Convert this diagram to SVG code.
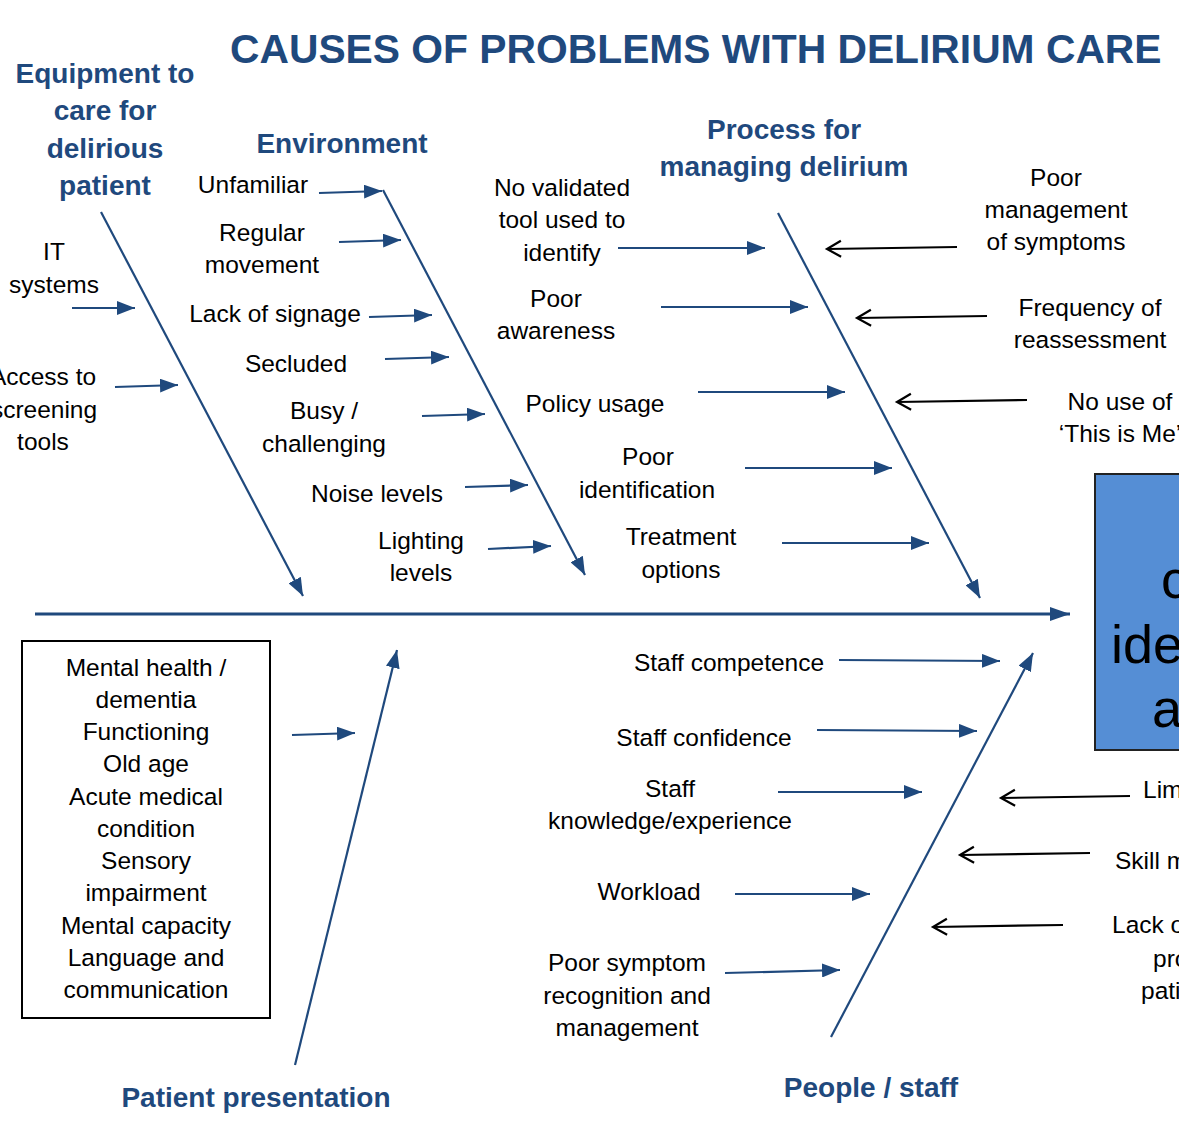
<svg xmlns="http://www.w3.org/2000/svg" width="1179" height="1124" viewBox="0 0 1179 1124">
  <style>
    .t { font-family: "Liberation Sans", Arial, sans-serif; font-size: 24.5px; fill: #000; text-anchor: middle; }
    .ts { font-family: "Liberation Sans", Arial, sans-serif; font-size: 24.5px; fill: #000; text-anchor: start; }
    .h { font-family: "Liberation Sans", Arial, sans-serif; font-size: 28px; font-weight: bold; fill: #1f497d; text-anchor: middle; }
    .title { font-family: "Liberation Sans", Arial, sans-serif; font-size: 40.8px; font-weight: bold; fill: #1f497d; }
    .bone { stroke: #1f497d; stroke-width: 2.2; fill: none; marker-end: url(#ah); }
    .spine { stroke: #1f497d; stroke-width: 3.2; fill: none; marker-end: url(#ahBig); }
    .k { stroke: #000; stroke-width: 2.2; fill: none; marker-end: url(#vh); }
    .big { font-family: "Liberation Sans", Arial, sans-serif; font-size: 54px; fill: #000; }
  </style>
  <defs>
    <marker id="ah" markerUnits="userSpaceOnUse" markerWidth="20" markerHeight="14" refX="18" refY="7" orient="auto">
      <path d="M0,0 L18,7 L0,14 z" fill="#1f497d"/>
    </marker>
    <marker id="ahBig" markerUnits="userSpaceOnUse" markerWidth="22" markerHeight="14" refX="20" refY="7" orient="auto">
      <path d="M0,0 L20,7 L0,14 z" fill="#1f497d"/>
    </marker>
    <marker id="vh" markerUnits="userSpaceOnUse" markerWidth="18" markerHeight="20" refX="15" refY="10" orient="auto">
      <path d="M1,2 L15,10 L1,18" fill="none" stroke="#000" stroke-width="2.2"/>
    </marker>
  </defs>

  <rect width="1179" height="1124" fill="#fff"/>

  <text class="title" x="230" y="63">CAUSES OF PROBLEMS WITH DELIRIUM CARE</text>

  <!-- Outcome box on the right (runs past the right edge) -->
  <g id="outcome">
    <rect x="1095" y="474" width="120" height="276" fill="#558ed5" stroke="#222" stroke-width="2"/>
    <text class="big" x="1161" y="598">c</text>
    <text class="big" x="1111" y="663">iden</text>
    <text class="big" x="1152" y="727">a</text>
  </g>

  <!-- Category headings -->
  <g id="cat-equipment">
    <text class="h" x="105" y="83">Equipment to</text>
    <text class="h" x="105" y="120">care for</text>
    <text class="h" x="105" y="158">delirious</text>
    <text class="h" x="105" y="195">patient</text>
  </g>
  <g id="cat-environment">
    <text class="h" x="342" y="153">Environment</text>
  </g>
  <g id="cat-process">
    <text class="h" x="784" y="139">Process for</text>
    <text class="h" x="784" y="176">managing delirium</text>
  </g>
  <g id="cat-patient">
    <text class="h" x="256" y="1107">Patient presentation</text>
  </g>
  <g id="cat-people">
    <text class="h" x="871" y="1097">People / staff</text>
  </g>

  <!-- Equipment causes -->
  <g id="c-it">
    <text class="t" x="54" y="260">IT</text>
    <text class="t" x="54" y="293">systems</text>
  </g>
  <g id="c-access">
    <text class="t" x="43" y="385">Access to</text>
    <text class="t" x="44" y="418">screening</text>
    <text class="t" x="43" y="450">tools</text>
  </g>

  <!-- Environment causes -->
  <g id="c-unfamiliar"><text class="t" x="253" y="193">Unfamiliar</text></g>
  <g id="c-regular">
    <text class="t" x="262" y="241">Regular</text>
    <text class="t" x="262" y="273">movement</text>
  </g>
  <g id="c-signage"><text class="t" x="275" y="322">Lack of signage</text></g>
  <g id="c-secluded"><text class="t" x="296" y="372">Secluded</text></g>
  <g id="c-busy">
    <text class="t" x="324" y="419">Busy /</text>
    <text class="t" x="324" y="452">challenging</text>
  </g>
  <g id="c-noise"><text class="t" x="377" y="502">Noise levels</text></g>
  <g id="c-lighting">
    <text class="t" x="421" y="549">Lighting</text>
    <text class="t" x="421" y="581">levels</text>
  </g>

  <!-- Process causes -->
  <g id="c-validated">
    <text class="t" x="562" y="196">No validated</text>
    <text class="t" x="562" y="228">tool used to</text>
    <text class="t" x="562" y="261">identify</text>
  </g>
  <g id="c-awareness">
    <text class="t" x="556" y="307">Poor</text>
    <text class="t" x="556" y="339">awareness</text>
  </g>
  <g id="c-policy"><text class="t" x="595" y="412">Policy usage</text></g>
  <g id="c-identification">
    <text class="t" x="648" y="465">Poor</text>
    <text class="t" x="647" y="498">identification</text>
  </g>
  <g id="c-treatment">
    <text class="t" x="681" y="545">Treatment</text>
    <text class="t" x="681" y="578">options</text>
  </g>
  <g id="c-symptoms">
    <text class="t" x="1056" y="186">Poor</text>
    <text class="t" x="1056" y="218">management</text>
    <text class="t" x="1056" y="250">of symptoms</text>
  </g>
  <g id="c-frequency">
    <text class="t" x="1090" y="316">Frequency of</text>
    <text class="t" x="1090" y="348">reassessment</text>
  </g>
  <g id="c-thisisme">
    <text class="t" x="1120" y="410">No use of</text>
    <text class="t" x="1120" y="442">‘This is Me’</text>
  </g>

  <!-- Patient presentation factors -->
  <g id="c-patient">
    <rect x="22" y="641" width="248" height="377" fill="#fff" stroke="#000" stroke-width="2"/>
    <text class="t" x="146" y="676">Mental health /</text>
    <text class="t" x="146" y="708">dementia</text>
    <text class="t" x="146" y="740">Functioning</text>
    <text class="t" x="146" y="772">Old age</text>
    <text class="t" x="146" y="805">Acute medical</text>
    <text class="t" x="146" y="837">condition</text>
    <text class="t" x="146" y="869">Sensory</text>
    <text class="t" x="146" y="901">impairment</text>
    <text class="t" x="146" y="934">Mental capacity</text>
    <text class="t" x="146" y="966">Language and</text>
    <text class="t" x="146" y="998">communication</text>
  </g>

  <!-- People / staff causes -->
  <g id="c-competence"><text class="t" x="729" y="671">Staff competence</text></g>
  <g id="c-confidence"><text class="t" x="704" y="746">Staff confidence</text></g>
  <g id="c-knowledge">
    <text class="t" x="670" y="797">Staff</text>
    <text class="t" x="670" y="829">knowledge/experience</text>
  </g>
  <g id="c-workload"><text class="t" x="649" y="900">Workload</text></g>
  <g id="c-recognition">
    <text class="t" x="627" y="971">Poor symptom</text>
    <text class="t" x="627" y="1004">recognition and</text>
    <text class="t" x="627" y="1036">management</text>
  </g>
  <g id="c-lim"><text class="ts" x="1143" y="798">Lim</text></g>
  <g id="c-skill"><text class="ts" x="1115" y="869">Skill m</text></g>
  <g id="c-lack">
    <text class="ts" x="1112" y="933">Lack o</text>
    <text class="ts" x="1153" y="967">pro</text>
    <text class="ts" x="1141" y="999">pati</text>
  </g>

  <!-- Connectors -->
  <g id="connectors">
    <!-- spine -->
    <line class="spine" x1="35" y1="614" x2="1070" y2="614"/>

    <!-- category bones -->
    <line class="bone" x1="101" y1="212" x2="303" y2="596"/>
    <line class="bone" x1="383" y1="190" x2="585" y2="575"/>
    <line class="bone" x1="778" y1="213" x2="980" y2="598"/>
    <line class="bone" x1="295" y1="1065" x2="397" y2="650"/>
    <line class="bone" x1="831" y1="1037" x2="1033" y2="653"/>

    <!-- equipment -->
    <line class="bone" x1="72" y1="308" x2="135" y2="308"/>
    <line class="bone" x1="115" y1="387" x2="178" y2="385"/>

    <!-- environment -->
    <line class="bone" x1="319" y1="193" x2="382" y2="191"/>
    <line class="bone" x1="339" y1="242" x2="401" y2="240"/>
    <line class="bone" x1="369" y1="317" x2="432" y2="315"/>
    <line class="bone" x1="385" y1="359" x2="449" y2="357"/>
    <line class="bone" x1="422" y1="416" x2="485" y2="414"/>
    <line class="bone" x1="465" y1="487" x2="528" y2="485"/>
    <line class="bone" x1="488" y1="549" x2="551" y2="546"/>

    <!-- process -->
    <line class="bone" x1="618" y1="248" x2="765" y2="248"/>
    <line class="bone" x1="661" y1="307" x2="808" y2="307"/>
    <line class="bone" x1="698" y1="392" x2="845" y2="392"/>
    <line class="bone" x1="745" y1="468" x2="892" y2="468"/>
    <line class="bone" x1="782" y1="543" x2="929" y2="543"/>
    <line class="k" x1="957" y1="247" x2="827" y2="249"/>
    <line class="k" x1="987" y1="316" x2="857" y2="318"/>
    <line class="k" x1="1027" y1="400" x2="897" y2="402"/>

    <!-- patient -->
    <line class="bone" x1="292" y1="735" x2="355" y2="733"/>

    <!-- people -->
    <line class="bone" x1="839" y1="660" x2="1000" y2="661"/>
    <line class="bone" x1="817" y1="730" x2="977" y2="731"/>
    <line class="bone" x1="778" y1="792" x2="922" y2="792"/>
    <line class="bone" x1="735" y1="894" x2="870" y2="894"/>
    <line class="bone" x1="725" y1="973" x2="840" y2="970"/>
    <line class="k" x1="1130" y1="796" x2="1001" y2="798"/>
    <line class="k" x1="1090" y1="853" x2="960" y2="855"/>
    <line class="k" x1="1063" y1="925" x2="933" y2="927"/>
  </g>
</svg>
